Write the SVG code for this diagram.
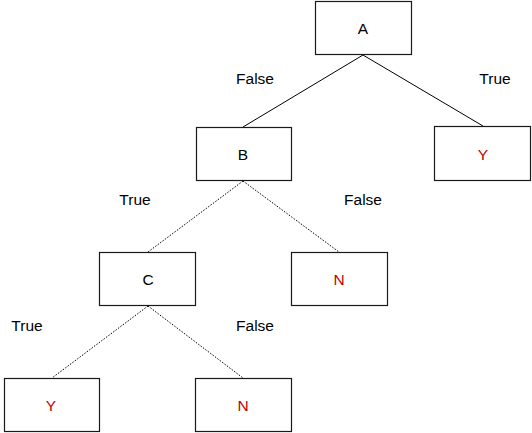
<svg xmlns="http://www.w3.org/2000/svg" width="532" height="433" viewBox="0 0 532 433">
<style>
.box{fill:#fff;stroke:#1a1a1a;stroke-width:1.2}
.t{font-family:"Liberation Sans",Arial,sans-serif;font-size:15.5px;fill:#000;text-anchor:middle}
.r{fill:#c00000}
.solid{stroke:#000;stroke-width:1;fill:none}
.dot{stroke:#000;stroke-width:1;fill:none;stroke-dasharray:1.5 1.5}
</style>
<rect width="532" height="433" fill="#fff"/>
<g id="connectors">
<line class="solid" x1="363" y1="55" x2="243" y2="127"/>
<line class="solid" x1="363" y1="55" x2="483" y2="126"/>
<line class="dot" x1="243" y1="181" x2="148" y2="252"/>
<line class="dot" x1="243" y1="181" x2="339" y2="252"/>
<line class="dot" x1="148" y1="306" x2="52" y2="378"/>
<line class="dot" x1="148" y1="306" x2="243" y2="378"/>
</g>
<g id="labels">
<text class="t" x="255" y="84">False</text>
<text class="t" x="495" y="84">True</text>
<text class="t" x="135" y="205">True</text>
<text class="t" x="363" y="205">False</text>
<text class="t" x="27" y="331">True</text>
<text class="t" x="255" y="331">False</text>
</g>
<g id="A"><rect class="box" x="315.5" y="1.5" width="96" height="53"/><text class="t" x="363" y="34">A</text></g>
<g id="B"><rect class="box" x="196.5" y="127.5" width="95" height="53"/><text class="t" x="243" y="160">B</text></g>
<g id="Y1"><rect class="box" x="434.5" y="126.5" width="96" height="54"/><text class="t r" x="483" y="160">Y</text></g>
<g id="C"><rect class="box" x="99.5" y="252.5" width="96" height="53"/><text class="t" x="148" y="285">C</text></g>
<g id="N1"><rect class="box" x="291.5" y="252.5" width="96" height="53"/><text class="t r" x="339" y="285">N</text></g>
<g id="Y2"><rect class="box" x="4.5" y="378.5" width="95" height="53"/><text class="t r" x="51" y="411">Y</text></g>
<g id="N2"><rect class="box" x="195.5" y="378.5" width="96" height="53"/><text class="t r" x="243" y="411">N</text></g>
</svg>
